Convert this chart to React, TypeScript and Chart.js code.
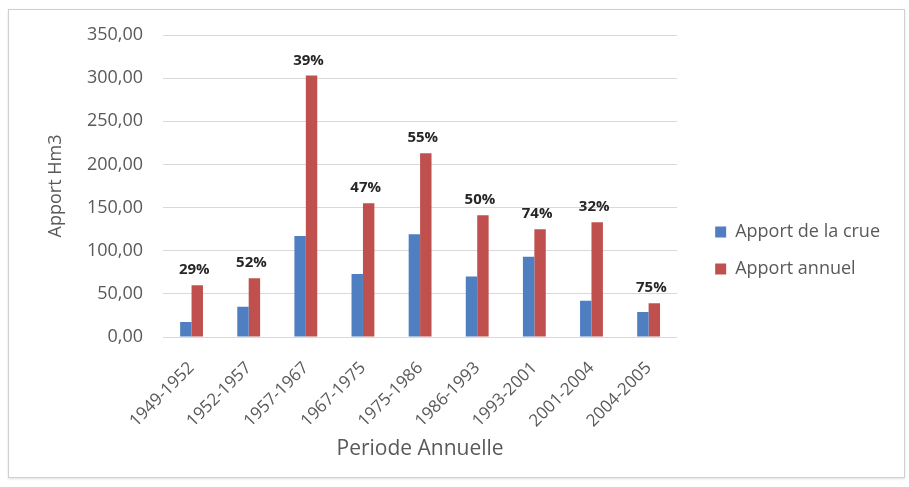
import React, { useEffect, useRef } from "react";
import { Chart, registerables } from "chart.js";

Chart.register(...registerables);

const categories = [
  "1949-1952",
  "1952-1957",
  "1957-1967",
  "1967-1975",
  "1975-1986",
  "1986-1993",
  "1993-2001",
  "2001-2004",
  "2004-2005",
];
const apportCrue = [17.5, 35, 117, 73, 119, 70, 93, 42, 29];
const apportAnnuel = [60, 68, 303, 155, 213, 141, 125, 133, 39];
const pctLabels = ["29%", "52%", "39%", "47%", "55%", "50%", "74%", "32%", "75%"];
const yTicks = [0, 50, 100, 150, 200, 250, 300, 350];

const FONT = "'Open Sans', 'Noto Sans', sans-serif";
const GRAY = "#595959";

const pctPlugin = {
  id: "pctLabels",
  afterDatasetsDraw(chart: any) {
    const meta = chart.getDatasetMeta(1);
    const ctx = chart.ctx;
    ctx.save();
    ctx.font = `bold 15px ${FONT}`;
    ctx.fillStyle = "#262626";
    ctx.textAlign = "center";
    ctx.textBaseline = "alphabetic";
    meta.data.forEach((el: any, i: number) => {
      ctx.fillText(pctLabels[i], el.x - 3, el.y - 11);
    });
    ctx.restore();
  },
};

export default function App() {
  const ref = useRef<HTMLCanvasElement>(null);

  useEffect(() => {
    if (!ref.current) return;
    const chart = new Chart(ref.current, {
      type: "bar",
      data: {
        labels: categories,
        datasets: [
          {
            label: "Apport de la crue",
            data: apportCrue,
            backgroundColor: "#4F7EC1",
            categoryPercentage: 0.4,
            barPercentage: 1.0,
          },
          {
            label: "Apport annuel",
            data: apportAnnuel,
            backgroundColor: "#C0504D",
            categoryPercentage: 0.4,
            barPercentage: 1.0,
          },
        ],
      },
      options: {
        responsive: false,
        animation: false,
        layout: { padding: { left: 41, top: 35, bottom: 21, right: 19 } },
        plugins: {
          tooltip: { enabled: false },
          legend: {
            position: "right",
            align: "center",
            maxWidth: 300,
            labels: {
              boxWidth: 11,
              boxHeight: 11,
              padding: 19,
              color: GRAY,
              font: { family: FONT, size: 18 },
            },
          },
        },
        scales: {
          x: {
            grid: { display: false, drawTicks: false },
            border: { display: false },
            ticks: {
              autoSkip: false,
              minRotation: 45,
              maxRotation: 45,
              padding: 21,
              color: GRAY,
              font: { family: FONT, size: 17 },
            },
            title: {
              display: true,
              text: "Periode Annuelle",
              color: GRAY,
              font: { family: FONT, size: 21 },
              padding: { top: 4, bottom: 4 },
            },
            afterFit: (s: any) => {
              s.height = 129;
            },
          },
          y: {
            min: 0,
            max: 350,
            grid: { color: "#d9d9d9", lineWidth: 1, drawTicks: false },
            border: { display: false },
            afterBuildTicks: (s: any) => {
              s.ticks = yTicks.map((v) => ({ value: v }));
            },
            ticks: {
              padding: 20,
              color: GRAY,
              font: { family: FONT, size: 18 },
              callback: (v: any) => Number(v).toFixed(2).replace(".", ","),
            },
            title: {
              display: true,
              text: "Apport Hm3",
              color: GRAY,
              font: { family: FONT, size: 18 },
              padding: { top: 4, bottom: 4 },
            },
            afterFit: (s: any) => {
              s.width = 122;
            },
          },
          gap: {
            type: "linear",
            position: "right",
            display: true,
            grid: { display: false, drawTicks: false },
            border: { display: false },
            ticks: { display: false },
            afterFit: (s: any) => {
              s.width = 19;
            },
          },
        },
      },
      plugins: [pctPlugin],
    } as any);
    return () => chart.destroy();
  }, []);

  return (
    <div
      style={{
        position: "fixed",
        left: 0,
        top: 0,
        width: 909,
        height: 487,
        background: "#ffffff",
      }}
    >
      <div
        style={{
          position: "absolute",
          left: 8,
          top: 9,
          width: 895,
          height: 467,
          border: "1px solid #d0d0d0",
          boxShadow: "0 1px 2px rgba(0,0,0,0.12)",
        }}
      />
      <canvas
        ref={ref}
        width={909}
        height={487}
        style={{ position: "absolute", left: 0, top: 0 }}
      />
    </div>
  );
}
